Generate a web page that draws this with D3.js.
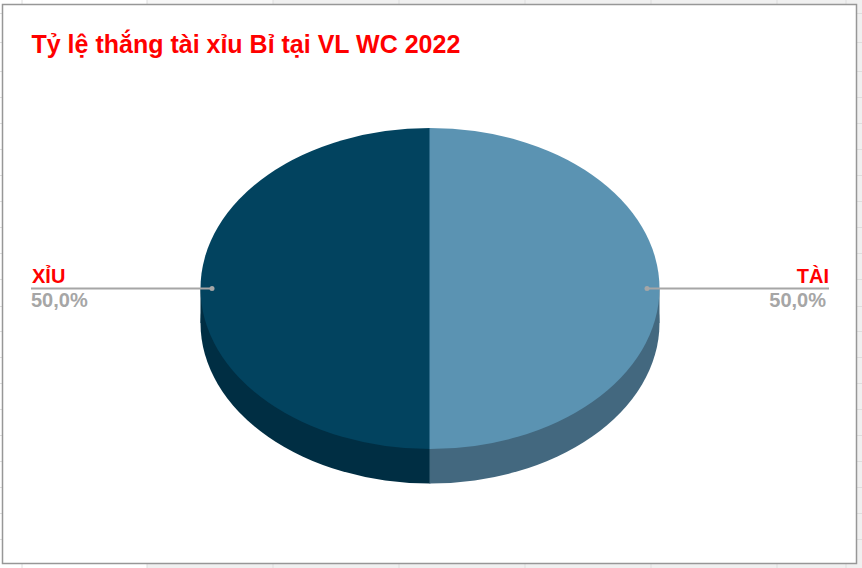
<!DOCTYPE html>
<html>
<head>
<meta charset="utf-8">
<script src="https://cdn.jsdelivr.net/npm/d3@7"></script>
<style>
  html, body { margin: 0; padding: 0; background: #fff; }
  svg { display: block; font-family: "Liberation Sans", Arial, sans-serif; }
</style>
</head>
<body>
<svg id="chart" width="862" height="568"></svg>
<script>
const title = 'Tỷ lệ thắng tài xỉu Bỉ tại VL WC 2022';
const categories = ['TÀI', 'XỈU'];
const shares = [50, 50];
const topColors = ['#5b93b2', '#02435f'];
const sideColors = ['#43687f', '#002e43'];

const svg = d3.select('#chart');
const width = 862;
const height = 568;

// spreadsheet cells behind the chart
const colLines = [22, 147, 273, 399, 525, 651, 777, 846];
const rowLines = [13, 42, 71, 97, 123, 149, 175, 201, 227, 253, 279, 306, 331, 357, 383, 409, 435, 461, 487, 513, 539];

svg.append('rect').attr('width', width).attr('height', height).attr('fill', '#f0f0f0');
svg.append('rect').attr('width', 147).attr('height', height).attr('fill', '#fff');
svg.append('rect').attr('x', 147).attr('width', 126).attr('height', 4).attr('fill', '#f7f7f7');

svg.selectAll('line.col').data(colLines).enter().append('line')
  .attr('class', 'col')
  .attr('x1', d => d).attr('x2', d => d)
  .attr('y1', 0).attr('y2', height)
  .attr('stroke', '#dedede');
svg.selectAll('line.row').data(rowLines).enter().append('line')
  .attr('class', 'row')
  .attr('x1', 0).attr('x2', width)
  .attr('y1', d => d + 0.5).attr('y2', d => d + 0.5)
  .attr('stroke', '#dedede');

// chart area
svg.append('rect')
  .attr('x', 2.5).attr('y', 4.5)
  .attr('width', 854).attr('height', 559)
  .attr('fill', '#fff')
  .attr('stroke', '#979797')
  .attr('stroke-width', 1.5);

svg.append('text')
  .attr('x', 31.5).attr('y', 53)
  .attr('font-size', 25)
  .attr('font-weight', 'bold')
  .attr('fill', '#ff0000')
  .text(title);

// pie, tilted by squashing a unit circle
const cx = 430;
const cy = 288.5;
const rx = 229.5;
const ry = 160.5;
const depth = 34.5;

const pie = d3.pie().sort(null).value(d => d);
const arcs = pie(shares);
const unitArc = d3.arc().innerRadius(0).outerRadius(1);

const side = svg.append('g');
arcs.forEach((d, i) => {
  side.append('path')
    .attr('d', unitArc(d))
    .attr('transform', `translate(${cx},${cy + depth}) scale(${rx},${ry})`)
    .attr('fill', sideColors[i]);
  // wall between the two rims
  side.append('rect')
    .attr('x', i === 0 ? cx : cx - rx)
    .attr('y', cy)
    .attr('width', rx)
    .attr('height', depth)
    .attr('fill', sideColors[i]);
});

svg.append('line')
  .attr('x1', cx).attr('x2', cx)
  .attr('y1', cy + ry).attr('y2', cy + ry + depth)
  .attr('stroke', '#43687f').attr('stroke-width', 1);

svg.selectAll('path.slice').data(arcs).enter().append('path')
  .attr('class', 'slice')
  .attr('d', unitArc)
  .attr('transform', `translate(${cx},${cy}) scale(${rx},${ry})`)
  .attr('fill', (d, i) => topColors[i]);

svg.append('line')
  .attr('x1', cx).attr('x2', cx)
  .attr('y1', cy - ry).attr('y2', cy + ry)
  .attr('stroke', '#5b93b2').attr('stroke-width', 1);

// labels with leader lines
const labelLayout = [
  { x1: 647, x2: 829, anchor: 'end', nameX: 829, valueX: 826 },
  { x1: 212, x2: 31, anchor: 'start', nameX: 32, valueX: 31 }
];
const leaderY = 288.5;

arcs.forEach((d, i) => {
  const l = labelLayout[i];
  const g = svg.append('g');
  g.append('line')
    .attr('x1', l.x1).attr('x2', l.x2)
    .attr('y1', leaderY).attr('y2', leaderY)
    .attr('stroke', '#a6a6a6').attr('stroke-width', 2);
  g.append('circle')
    .attr('cx', l.x1).attr('cy', leaderY).attr('r', 2.5)
    .attr('fill', '#a6a6a6');
  g.append('text')
    .attr('x', l.nameX).attr('y', 283)
    .attr('text-anchor', l.anchor)
    .attr('font-size', 20).attr('font-weight', 'bold')
    .attr('fill', '#ff0000')
    .text(categories[i]);
  g.append('text')
    .attr('x', l.valueX).attr('y', 307)
    .attr('text-anchor', l.anchor)
    .attr('font-size', 20).attr('font-weight', 'bold')
    .attr('fill', '#a6a6a6')
    .text(d3.format('.1f')(d.value).replace('.', ',') + '%');
});
</script>
</body>
</html>
